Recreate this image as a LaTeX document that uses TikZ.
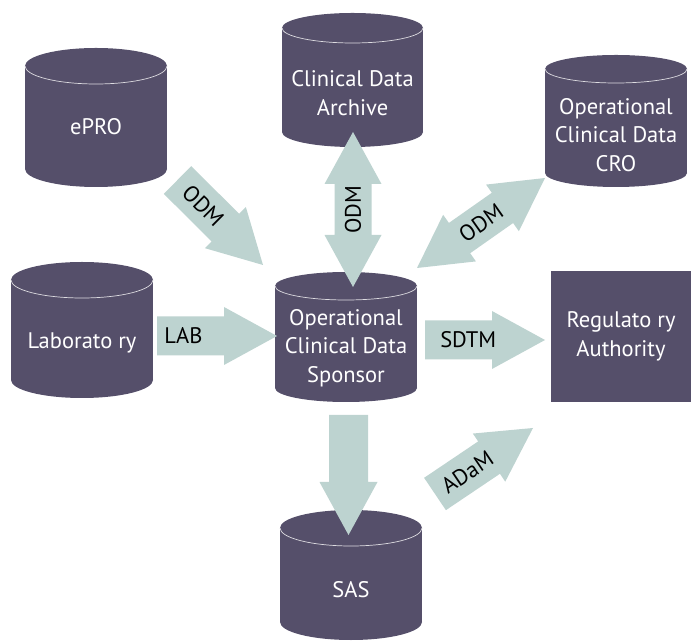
\documentclass[tikz,border=0pt]{standalone}
\usepackage{fontspec}
\setmainfont{PT Sans}
\usetikzlibrary{calc}
\definecolor{dbfill}{HTML}{554F6A}
\definecolor{arrfill}{HTML}{BDD3D0}
\tikzset{
  dbtext/.style={text=white, font=\fontsize{22.5}{28.5}\selectfont, align=center, inner sep=0pt},
  arrlabel/.style={text=black, font=\fontsize{22.5}{26}\selectfont, inner sep=0pt},
  dbshape/.style={fill=dbfill},
  rim/.style={draw=white!80!dbfill, line width=0.7pt},
  arrowbody/.style={fill=arrfill},
}
% #1 name, #2 cx, #3 top-ellipse centre Y, #4 bottom-ellipse centre Y, #5 rx, #6 ry, #7 text centre Y, #8 text
\newcommand{\dbcyl}[8]{%
  \fill[dbshape] (#2-#5,#3) rectangle (#2+#5,#4);
  \fill[dbshape] (#2,#3) ellipse[x radius=#5pt, y radius=#6pt];
  \fill[dbshape] (#2,#4) ellipse[x radius=#5pt, y radius=#6pt];
  \draw[rim] (#2-#5,#3) arc[start angle=180, end angle=360, x radius=#5pt, y radius=#6pt];
  \node[dbtext] (#1) at (#2,#7) {#8};
}
% single block arrow from #1 (tail) to #2 (tip)
\newcommand{\blockarrow}[2]{%
  \coordinate (nk) at ($(#2)!53pt!(#1)$);
  \fill[arrowbody] ($(#1)!19.5pt!90:(#2)$) -- ($(nk)!19.5pt!90:(#2)$) -- ($(nk)!29pt!90:(#2)$)
    -- (#2) -- ($(nk)!29pt!-90:(#2)$) -- ($(nk)!19.5pt!-90:(#2)$) -- ($(#1)!19.5pt!-90:(#2)$) -- cycle;
}
% double block arrow between tips #1 and #2
\newcommand{\dblarrow}[2]{%
  \coordinate (nka) at ($(#1)!52pt!(#2)$);
  \coordinate (nkb) at ($(#2)!52pt!(#1)$);
  \fill[arrowbody] (#1) -- ($(nka)!28.5pt!90:(#2)$) -- ($(nka)!18.5pt!90:(#2)$)
    -- ($(nkb)!18.5pt!90:(#2)$) -- ($(nkb)!28.5pt!90:(#2)$) -- (#2)
    -- ($(nkb)!28.5pt!-90:(#2)$) -- ($(nkb)!18.5pt!-90:(#2)$)
    -- ($(nka)!18.5pt!-90:(#2)$) -- ($(nka)!28.5pt!-90:(#2)$) -- cycle;
}
\begin{document}
\begin{tikzpicture}[x=1pt,y=1pt]
\useasboundingbox (0,0) rectangle (692,642);

% databases
\dbcyl{epro}{96}{576}{473}{71}{18}{515}{ePRO}
\dbcyl{archive}{352.5}{614}{510}{70.5}{15}{549}{Clinical Data\\Archive}
\dbcyl{cro}{616}{573}{469}{71}{14}{507}{Operational\\Clinical Data\\CRO}
\dbcyl{lab}{82}{362}{262}{71}{18}{299}{Laborato ry}
\dbcyl{sponsor}{346}{356}{254}{71}{14}{294}{Operational\\Clinical Data\\Sponsor}
\dbcyl{sas}{351}{114}{20}{71}{18}{52}{SAS}
\node[dbtext, fill=dbfill, minimum width=140pt, minimum height=131pt] (reg) at (621,305.5) {Regulato ry\\Authority};

% arrow end points
\coordinate (eproT) at (177.5,462);
\coordinate (eproH) at (263,377);
\coordinate (archA) at (353,355);
\coordinate (archB) at (353,510);
\coordinate (croA) at (417,374);
\coordinate (croB) at (545,464);
\coordinate (labT) at (157,306);
\coordinate (labH) at (277,306);
\coordinate (sdtmT) at (425,302);
\coordinate (sdtmH) at (545,302);
\coordinate (sasT) at (348.5,227);
\coordinate (sasH) at (348.5,107);
\coordinate (adamT) at (435,148);
\coordinate (adamH) at (533,214);

% arrows
\blockarrow{eproT}{eproH}
\dblarrow{archA}{archB}
\dblarrow{croA}{croB}
\blockarrow{labT}{labH}
\blockarrow{sdtmT}{sdtmH}
\blockarrow{sasT}{sasH}
\blockarrow{adamT}{adamH}

% labels
\path (eproT) -- (eproH) node[arrlabel, pos=0.3, sloped] {ODM};
\path (archA) -- (archB) node[arrlabel, pos=0.5, sloped] {ODM};
\path (croA) -- (croB) node[arrlabel, pos=0.5, sloped] {ODM};
\path (labT) -- (labH) node[arrlabel, pos=0.22, sloped] {LAB};
\path (sdtmT) -- (sdtmH) node[arrlabel, pos=0.36, sloped] {SDTM};
\path (adamT) -- (adamH) node[arrlabel, pos=0.33, sloped] {ADaM};
\end{tikzpicture}
\end{document}
